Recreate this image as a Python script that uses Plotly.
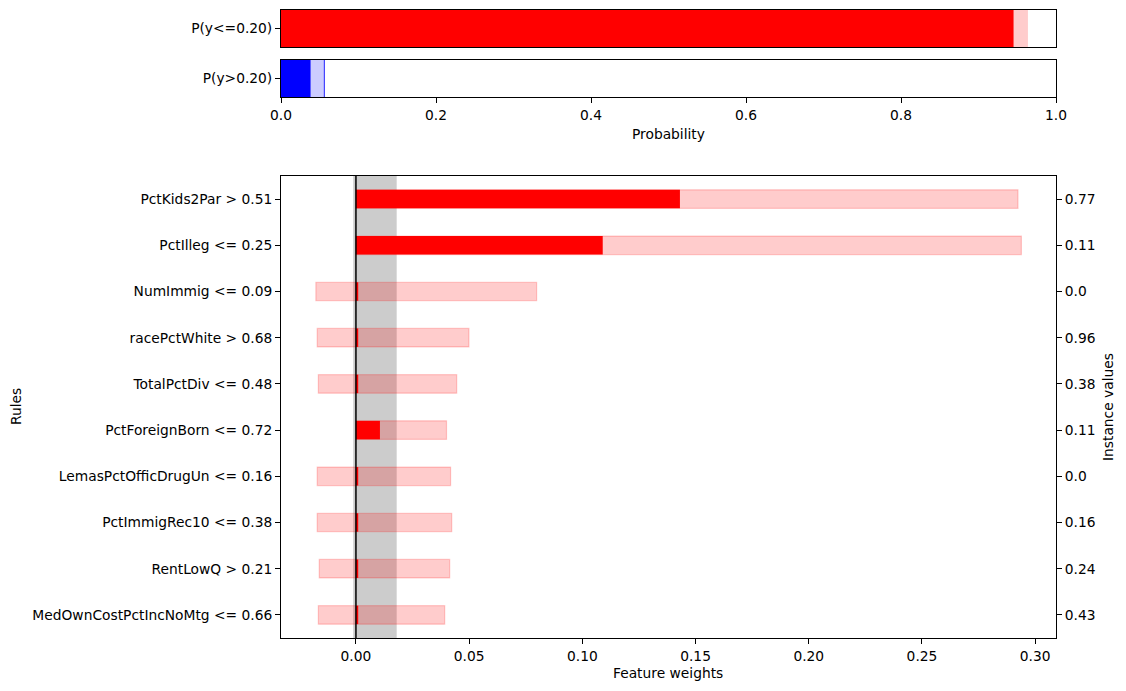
import plotly.graph_objects as go

# rules and instance values, top row first
rules = ["PctKids2Par > 0.51", "PctIlleg <= 0.25", "NumImmig <= 0.09",
         "racePctWhite > 0.68", "TotalPctDiv <= 0.48", "PctForeignBorn <= 0.72",
         "LemasPctOfficDrugUn <= 0.16", "PctImmigRec10 <= 0.38",
         "RentLowQ > 0.21", "MedOwnCostPctIncNoMtg <= 0.66"]
instance_values = ["0.77", "0.11", "0.0", "0.96", "0.38", "0.11", "0.0", "0.16", "0.24", "0.43"]

# feature weights with uncertainty interval
weights = [0.1431, 0.109, 0.001, 0.001, 0.001, 0.0106, 0.001, 0.001, 0.001, 0.001]
weight_low = [0.0, 0.0, -0.0177, -0.0171, -0.0166, 0.0, -0.0171, -0.0171, -0.0162, -0.0166]
weight_high = [0.2924, 0.2939, 0.0798, 0.0499, 0.0445, 0.0400, 0.0418, 0.0423, 0.0414, 0.0392]

# prediction uncertainty band
band_low, band_high = -0.0012, 0.018

# class probabilities (low, high)
prob_labels = ["P(y<=0.20)", "P(y>0.20)"]
prob_low = [0.9453, 0.0382]
prob_high = [0.9638, 0.056]

FONT = "DejaVu Sans"
FS = 13.8
OFF = 8  # page body margin
W, H = 1126 - OFF, 691 - OFF
rows = list(range(len(rules)))


def px_x(v):
    return (v - OFF) / W


def px_y(v):
    return 1 - (v - OFF) / H


fig = go.Figure()

# top probability bars
fig.add_trace(go.Bar(y=[0], x=[prob_low[0]], base=0, orientation="h", width=1.0,
                     marker=dict(color="red", line=dict(width=0)), xaxis="x", yaxis="y"))
fig.add_trace(go.Bar(y=[0], x=[prob_high[0] - prob_low[0]], base=prob_low[0], orientation="h", width=1.0,
                     marker=dict(color="rgba(255,0,0,0.2)", line=dict(width=0)), xaxis="x", yaxis="y"))
fig.add_trace(go.Bar(y=[0], x=[prob_low[1]], base=0, orientation="h", width=1.0,
                     marker=dict(color="blue", line=dict(width=0)), xaxis="x2", yaxis="y2"))
fig.add_trace(go.Bar(y=[0], x=[prob_high[1] - prob_low[1]], base=prob_low[1], orientation="h", width=1.0,
                     marker=dict(color="rgba(0,0,255,0.2)", line=dict(width=0)), xaxis="x2", yaxis="y2"))
fig.add_trace(go.Scatter(x=[prob_high[1], prob_high[1]], y=[-0.5, 0.5], mode="lines",
                         line=dict(color="rgba(0,0,255,0.7)", width=1.2), xaxis="x2", yaxis="y2"))

# feature weight intervals and weights
fig.add_trace(go.Bar(y=rows, x=[h - l for l, h in zip(weight_low, weight_high)], base=weight_low,
                     orientation="h", width=0.4,
                     marker=dict(color="rgba(255,0,0,0.2)", line=dict(color="rgba(255,0,0,0.2)", width=1.2)),
                     xaxis="x3", yaxis="y3"))
fig.add_trace(go.Bar(y=rows, x=weights, base=0, orientation="h", width=0.4,
                     marker=dict(color="red", line=dict(width=0)), xaxis="x3", yaxis="y3"))
# right axis with instance values
fig.add_trace(go.Scatter(x=[0] * len(rows), y=rows, mode="markers", opacity=0,
                         text=instance_values, xaxis="x3", yaxis="y4"))

fig.add_shape(type="rect", xref="x3", yref="y3", x0=band_low, x1=band_high, y0=-0.5, y1=len(rules) - 0.5,
              fillcolor="rgba(0,0,0,0.2)", line=dict(width=0), layer="below")
fig.add_shape(type="line", xref="x3", yref="y3", x0=0, x1=0, y0=-0.5, y1=len(rules) - 0.5,
              line=dict(color="black", width=1.5))

ax_common = dict(showline=True, linecolor="black", linewidth=1, mirror=True, showgrid=False,
                 zeroline=False, ticks="outside", ticklen=5, tickcolor="black",
                 tickfont=dict(family=FONT, size=FS, color="black"), automargin=False)

dom_x = [px_x(281), px_x(1056)]
fig.update_layout(
    width=W, height=H, showlegend=False, barmode="overlay",
    plot_bgcolor="white", paper_bgcolor="white",
    margin=dict(l=0, r=0, t=0, b=0),
    font=dict(family=FONT, size=FS, color="black"),
    xaxis=dict(ax_common, domain=dom_x, anchor="y", range=[0, 1], showticklabels=False, ticks=""),
    yaxis=dict(ax_common, domain=[px_y(47), px_y(10)], anchor="x", range=[-0.5, 0.5],
               tickvals=[0], ticktext=[prob_labels[0]]),
    xaxis2=dict(ax_common, domain=dom_x, anchor="y2", range=[0, 1],
                tickvals=[0, 0.2, 0.4, 0.6, 0.8, 1.0], tickformat=".1f"),
    yaxis2=dict(ax_common, domain=[px_y(97), px_y(60)], anchor="x2", range=[-0.5, 0.5],
                tickvals=[0], ticktext=[prob_labels[1]]),
    xaxis3=dict(ax_common, domain=dom_x, anchor="y3", range=[-0.0331, 0.3092],
                tickvals=[0, 0.05, 0.10, 0.15, 0.20, 0.25, 0.30], tickformat=".2f"),
    yaxis3=dict(ax_common, domain=[px_y(638), px_y(176)], anchor="x3",
                range=[len(rules) - 0.5, -0.5], tickvals=rows, ticktext=rules),
    yaxis4=dict(ax_common, overlaying="y3", side="right", anchor="x3",
                range=[len(rules) - 0.5, -0.5], tickvals=rows, ticktext=instance_values),
)

title_font = dict(family=FONT, size=FS, color="black")
titles = [("Probability", 668, 134, 0), ("Feature weights", 668, 673, 0),
          ("Rules", 16, 407, -90), ("Instance values", 1108, 407, -90)]
for text, tx, ty, angle in titles:
    fig.add_annotation(text=text, xref="paper", yref="paper", x=px_x(tx), y=px_y(ty),
                       xanchor="center", yanchor="middle", showarrow=False,
                       textangle=angle, font=title_font)

fig.write_html("out.html")
